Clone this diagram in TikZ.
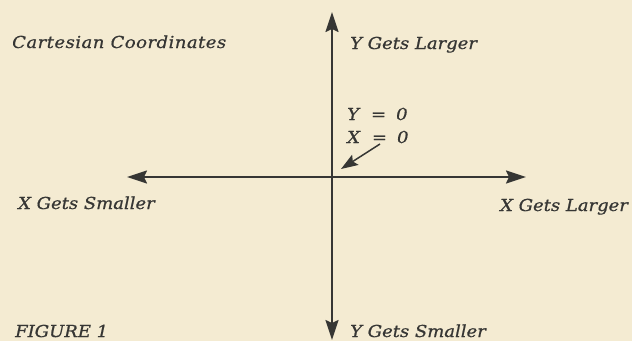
\documentclass[tikz,border=0pt]{standalone}
\usepackage{fontspec}
\setmainfont{DejaVu Serif}[FakeStretch=1.09,FakeBold=0.8]
\usetikzlibrary{arrows.meta}
\definecolor{paper}{HTML}{F4EBD2}
\definecolor{ink}{HTML}{363634}
\tikzset{
  lbl/.style={anchor=base west, inner sep=0pt, text=ink, font=\fontsize{16.5pt}{19pt}\selectfont\itshape},
  axis/.style={draw=ink, line width=1.8pt, {Stealth[length=20pt,width=13pt,inset=3pt]}-{Stealth[length=20pt,width=13pt,inset=3pt]}},
  pointer/.style={draw=ink, line width=1.5pt, -{Stealth[length=17pt,width=12pt,inset=3pt]}}
}
\begin{document}
\begin{tikzpicture}[x=1pt,y=-1pt]
\fill[paper] (0,0) rectangle (632,341);
\useasboundingbox (0,0) rectangle (632,341);
\coordinate (top) at (332,12);
\coordinate (bottom) at (332,340);
\coordinate (left) at (127,177);
\coordinate (right) at (526,177);
\coordinate (ptail) at (380,144);
\coordinate (phead) at (341,169);
\draw[axis] (left) -- (right);
\draw[axis] (bottom) -- (top);
\draw[pointer] (ptail) -- (phead);
\node[lbl] (cart) at (12,48) {\addfontfeature{LetterSpace=3}Cartesian Coordinates};
\node[lbl] (ylarger) at (350,49) {Y Gets Larger};
\node[lbl] (yeq) at (347,120) {Y\hspace{12pt}=\hspace{10pt}0};
\node[lbl] (xeq) at (347,143) {X\hspace{12pt}=\hspace{10pt}0};
\node[lbl] (xsmaller) at (18,209) {X Gets Smaller};
\node[lbl] (xlarger) at (500,211) {X Gets Larger};
\node[lbl] (ysmaller) at (350,337) {Y Gets Smaller};
\node[lbl] (fig) at (15,337) {FIGURE 1};
\end{tikzpicture}
\end{document}
